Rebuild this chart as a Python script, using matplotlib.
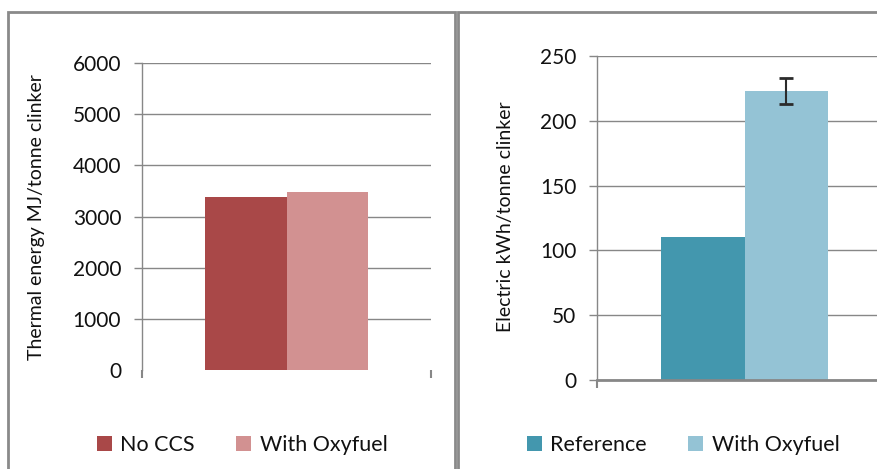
#!/usr/bin/env python3

import matplotlib
matplotlib.use('Agg')
import matplotlib.pyplot as plt
from matplotlib.patches import Patch, Rectangle

plt.rcParams['font.family'] = ['Lato', 'DejaVu Sans']
plt.rcParams['font.size'] = 14

# data
thermal_labels = ['No CCS', 'With Oxyfuel']
thermal_values = [3380, 3480]
thermal_colors = ['#A94848', '#D29191']

electric_labels = ['Reference', 'With Oxyfuel']
electric_values = [110, 223]
electric_err = [0, 10]
electric_colors = ['#4397AE', '#94C3D5']

W, H = 877, 469
fig = plt.figure(figsize=(W / 100, H / 100), dpi=100)

GRID = '#878787'


def px(x0, y0, x1, y1):
    # pixel box (top-left origin) -> figure fraction rect
    return [x0 / W, 1 - y1 / H, (x1 - x0) / W, (y1 - y0) / H]


# panel frames
for x0, x1 in [(8, 455), (458, 900)]:
    fig.patches.append(Rectangle((x0 / W, -0.1), (x1 - x0) / W, 1.1 - 12 / H,
                                 transform=fig.transFigure, fill=False,
                                 edgecolor='#8a8a8a', linewidth=2))


def panel(rect, labels, values, colors, ymax, step, zero_line, err=None):
    ax = fig.add_axes(rect)
    bw = 0.283
    xs = [-bw / 2, bw / 2]
    for i in range(len(values)):
        ax.bar(xs[i], values[i], width=bw, color=colors[i], zorder=3)
    if err is not None:
        for i in range(len(values)):
            if err[i]:
                ax.errorbar(xs[i], values[i], yerr=err[i], fmt='none',
                            ecolor='#2b2b2b', elinewidth=1.5, capsize=5,
                            capthick=2, zorder=4)
    ax.set_xlim(-0.5, 0.5)
    ax.set_ylim(0, ymax)
    ax.set_yticks(range(0, ymax + 1, step))
    ax.set_xticks([-0.5, 0.5])
    ax.set_xticklabels([])
    ax.grid(axis='y', color=GRID, linewidth=1, zorder=0)
    ax.set_axisbelow(True)
    for s in ['top', 'right']:
        ax.spines[s].set_visible(False)
    ax.spines['left'].set_color(GRID)
    ax.spines['left'].set_linewidth(1)
    if zero_line:
        ax.spines['bottom'].set_color(GRID)
        ax.spines['bottom'].set_linewidth(2)
        ax.spines['bottom'].set_zorder(5)
    else:
        # no baseline in the left chart
        ax.spines['bottom'].set_visible(False)
        ax.yaxis.get_gridlines()[0].set_visible(False)
        ax.yaxis.get_major_ticks()[0].tick1line.set_visible(False)
    ax.tick_params(axis='y', direction='out', length=6, width=1,
                   color=GRID, pad=9, labelsize=15, labelcolor='#111111')
    ax.tick_params(axis='x', direction='out', length=6, width=1.5,
                   color=GRID)
    handles = [Patch(facecolor=c, edgecolor='none') for c in colors]
    return ax, handles


ax1, h1 = panel(px(142, 63, 431, 370), thermal_labels, thermal_values,
                thermal_colors, 6000, 1000, zero_line=False)
ax2, h2 = panel(px(597, 56, 892, 380), electric_labels, electric_values,
                electric_colors, 250, 50, zero_line=True, err=electric_err)

fig.text(37 / W, 1 - 217 / H, 'Thermal energy MJ/tonne clinker',
         rotation=90, ha='center', va='center', fontsize=14,
         color='#111111')
fig.text(505 / W, 1 - 217 / H, 'Electric kWh/tonne clinker',
         rotation=90, ha='center', va='center', fontsize=14,
         color='#111111')

for handles, labels, cx in [(h1, thermal_labels, 242), (h2, electric_labels, 683)]:
    fig.legend(handles, labels, loc='center', bbox_to_anchor=(cx / W, 1 - 445 / H),
               ncol=2, frameon=False, fontsize=15.5, handlelength=0.7,
               handleheight=0.7, handletextpad=0.4, columnspacing=1.9,
               labelcolor='#111111')

fig.savefig('out.png', dpi=100)
